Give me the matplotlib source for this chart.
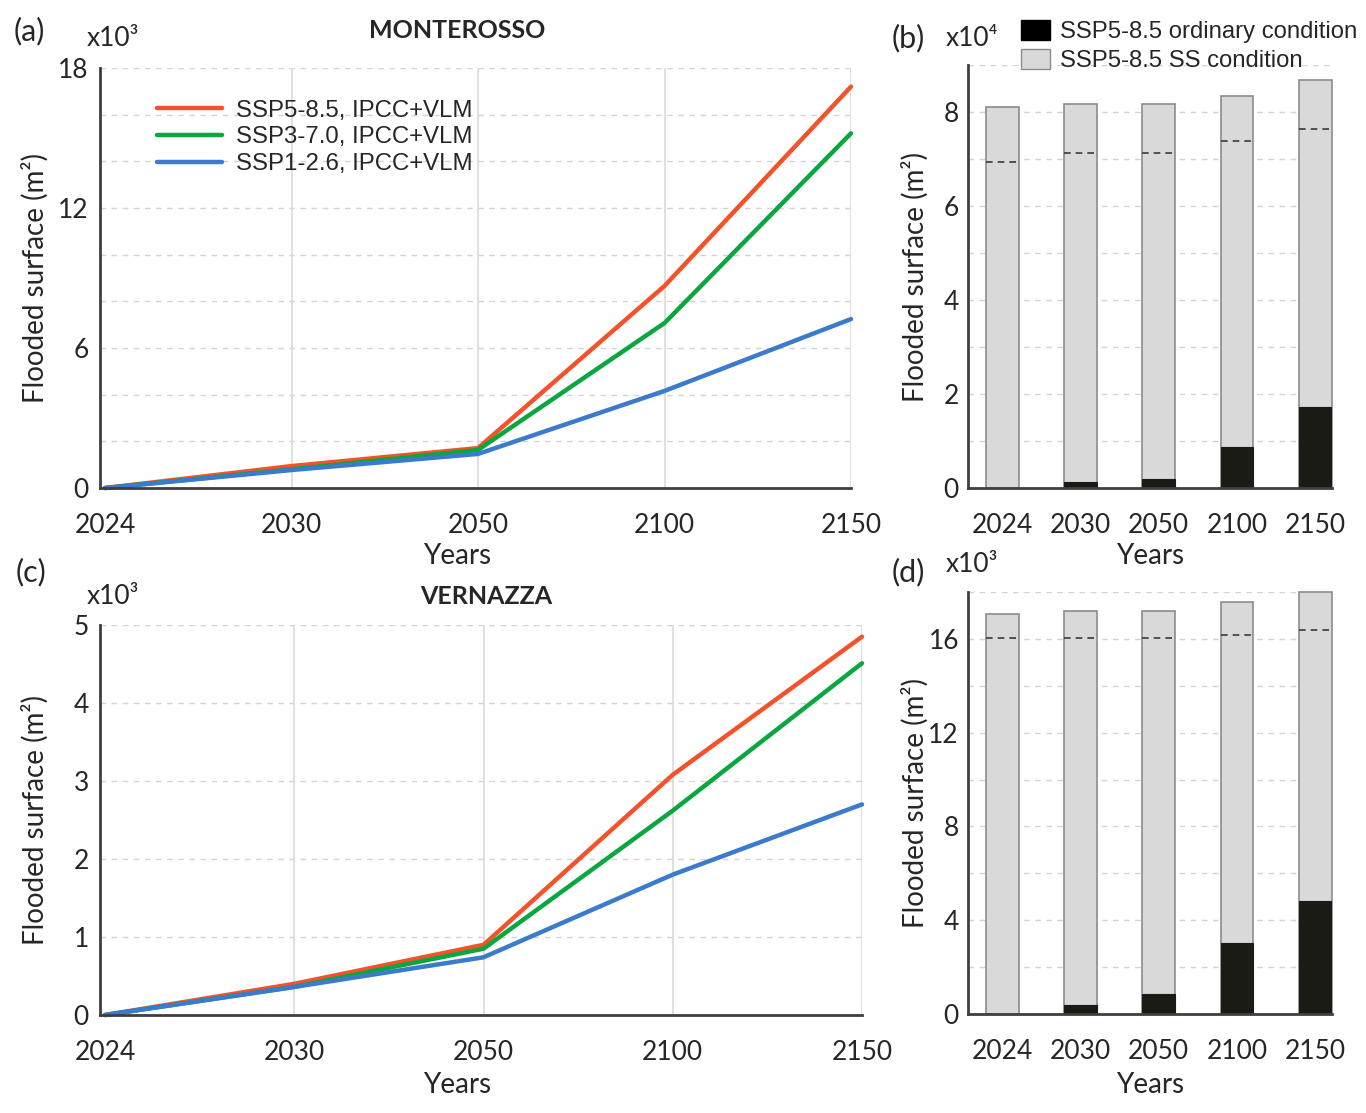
import matplotlib
matplotlib.use('Agg')
import matplotlib.pyplot as plt
import matplotlib.transforms as mtransforms
from matplotlib.patches import Patch
import numpy as np

# ---------------- data ----------------
years = ['2024', '2030', '2050', '2100', '2150']

# Monterosso line chart (x10^3 m2)
mont_ssp585 = [0.0, 0.94, 1.71, 8.66, 17.2]
mont_ssp370 = [0.0, 0.80, 1.63, 7.07, 15.2]
mont_ssp126 = [0.0, 0.77, 1.46, 4.16, 7.24]
# Vernazza line chart (x10^3 m2)
vern_ssp585 = [0.0, 0.40, 0.90, 3.08, 4.85]
vern_ssp370 = [0.0, 0.36, 0.85, 2.62, 4.51]
vern_ssp126 = [0.0, 0.36, 0.74, 1.80, 2.70]

# Monterosso bars (x10^4 m2)
mont_ordinary = [0.0, 0.12, 0.19, 0.88, 1.72]
mont_ss = [8.10, 8.16, 8.16, 8.35, 8.68]
mont_ss_dashed = [6.93, 7.13, 7.13, 7.39, 7.64]
# Vernazza bars (x10^3 m2)
vern_ordinary = [0.0, 0.38, 0.87, 3.04, 4.82]
vern_ss = [17.08, 17.20, 17.20, 17.58, 18.0]
vern_ss_dashed = [16.02, 16.02, 16.02, 16.15, 16.40]

line_labels = ['SSP5-8.5, IPCC+VLM', 'SSP3-7.0, IPCC+VLM', 'SSP1-2.6, IPCC+VLM']
line_colors = ['#F4522B', '#0AA640', '#3A7BCB']
bar_labels = ['SSP5-8.5 ordinary condition', 'SSP5-8.5 SS condition']

# ---------------- style ----------------
W, H = 1366, 1113
FONT = ['Lato', 'DejaVu Sans']
LEGFONT = ['Liberation Sans', 'DejaVu Sans']
plt.rcParams['font.family'] = FONT
TXT = '#262626'
SPINE = '#3F3F3F'
GRID = '#D4D4D4'
TICKFS = 19
LABFS = 20

fig = plt.figure(figsize=(W / 100, H / 100), dpi=100)


def rect(x0, x1, y0, y1):
    return [x0 / W, 1 - y1 / H, (x1 - x0) / W, (y1 - y0) / H]


def style_axes(ax, ypad):
    for s in ['top', 'right']:
        ax.spines[s].set_visible(False)
    for s in ['left', 'bottom']:
        ax.spines[s].set_color(SPINE)
        ax.spines[s].set_linewidth(2.0)
        ax.spines[s].set_zorder(5)
    ax.tick_params(axis='both', length=0, labelsize=TICKFS, colors=TXT)
    ax.tick_params(axis='x', pad=18)
    ax.tick_params(axis='y', pad=ypad)


def labels(ax, ylab_right_px, xlab_center_px, xlab_top_px):
    ax.set_ylabel('Flooded surface (m²)', fontsize=LABFS, color=TXT)
    ax.set_xlabel('Years', fontsize=LABFS, color=TXT)
    ax.yaxis.set_label_coords(ylab_right_px / W, 0.5,
                              transform=mtransforms.blended_transform_factory(fig.transFigure,
                                                                              ax.transAxes))
    ax.xaxis.set_label_coords(xlab_center_px / W, 1 - xlab_top_px / H, transform=fig.transFigure)


def line_panel(ax, series, ymax, yticks, ygrid):
    x = np.arange(len(years))
    ax.set_xlim(-0.027, 4.0)
    ax.set_ylim(0, ymax)
    for yy in ygrid:
        ax.axhline(yy, color=GRID, lw=1.0, ls=(0, (4, 4)), zorder=0)
    for xx in x[1:]:
        ax.axvline(xx, color='#DADADA', lw=1.2, zorder=0)
    handles = []
    for vals, c, lab in zip(series, line_colors, line_labels):
        h, = ax.plot(x, vals, color=c, lw=3.2, label=lab, solid_capstyle='round',
                     zorder=3, clip_on=False)
        handles.append(h)
    ax.set_xticks(x)
    ax.set_xticklabels(years)
    ax.set_yticks(yticks)
    ax.set_yticklabels([str(t) for t in yticks])
    style_axes(ax, 8)
    return handles


def bar_panel(ax, ss, ss_dash, ordinary, ymax, yticks, ygrid):
    x = np.arange(len(years))
    w = 0.42
    ax.set_xlim(-0.44, 4.215)
    ax.set_ylim(0, ymax)
    for yy in ygrid:
        ax.axhline(yy, color=GRID, lw=1.0, ls=(0, (4, 4)), zorder=0)
    ax.bar(x, ss, width=w, color='#D9D9D9', edgecolor='#8C8C8C', linewidth=1.2, zorder=2,
           clip_on=False)
    ax.bar(x, ordinary, width=w, color='#1B1B15', edgecolor='#1B1B15', linewidth=0.8, zorder=3)
    ax.hlines(ss_dash, x - w / 2, x + w / 2, colors='#3A3A3A', linestyles=(0, (4, 3)),
              lw=1.2, zorder=4)
    ax.set_xticks(x)
    ax.set_xticklabels(years)
    ax.set_yticks(yticks)
    ax.set_yticklabels([str(t) for t in yticks])
    style_axes(ax, 6.5)


# ---- (a) Monterosso lines
ax_a = fig.add_axes(rect(100, 851, 68, 488))
hs = line_panel(ax_a, [mont_ssp585, mont_ssp370, mont_ssp126], 18, [0, 6, 12, 18],
                np.arange(2, 19, 2))
labels(ax_a, 49, 457, 543)
leg = ax_a.legend(handles=hs, loc='upper left', bbox_to_anchor=(0.0759, 0.925), frameon=False,
                  prop={'family': LEGFONT, 'size': 17.3}, handlelength=2.7, handletextpad=0.58,
                  labelspacing=0.2, borderpad=0, borderaxespad=0)
for t in leg.get_texts():
    t.set_color(TXT)

# ---- (c) Vernazza lines
ax_c = fig.add_axes(rect(100, 862, 625, 1015))
line_panel(ax_c, [vern_ssp585, vern_ssp370, vern_ssp126], 5, [0, 1, 2, 3, 4, 5],
           np.arange(1, 6, 1))
labels(ax_c, 49, 457, 1072)

# ---- (b) Monterosso bars
ax_b = fig.add_axes(rect(968, 1332, 65, 488))
bar_panel(ax_b, mont_ss, mont_ss_dashed, mont_ordinary, 9, [0, 2, 4, 6, 8], np.arange(1, 10, 1))
labels(ax_b, 929, 1150, 543)

# ---- (d) Vernazza bars
ax_d = fig.add_axes(rect(968, 1332, 592, 1014))
bar_panel(ax_d, vern_ss, vern_ss_dashed, vern_ordinary, 18, [0, 4, 8, 12, 16],
          np.arange(2, 19, 2))
labels(ax_d, 929, 1150, 1072)

# bar legend
bar_handles = [Patch(facecolor='#000000', edgecolor='#000000'),
               Patch(facecolor='#D9D9D9', edgecolor='#8C8C8C')]
bleg = fig.legend(handles=bar_handles, labels=bar_labels, loc='upper left',
                  bbox_to_anchor=(1021 / W, 1 - 20 / H), frameon=False,
                  prop={'family': LEGFONT, 'size': 17.2}, handlelength=1.2, handleheight=0.92,
                  handletextpad=0.42, labelspacing=0.22, borderpad=0, borderaxespad=0)
for t in bleg.get_texts():
    t.set_color(TXT)


# panel letters, multipliers and titles
def ftext(x, y, s, **kw):
    fig.text(x / W, 1 - y / H, s, va='center', color=TXT, **kw)


ftext(14, 31, '(a)', fontsize=22, ha='left')
ftext(892, 38, '(b)', fontsize=22, ha='left')
ftext(16, 572, '(c)', fontsize=22, ha='left')
ftext(892, 572, '(d)', fontsize=22, ha='left')
ftext(87, 38, 'x10³', fontsize=19, ha='left')
ftext(946, 38, 'x10⁴', fontsize=19, ha='left')
ftext(87, 596, 'x10³', fontsize=19, ha='left')
ftext(946, 564, 'x10³', fontsize=19, ha='left')
ftext(457, 30, 'MONTEROSSO', fontsize=18, ha='center', fontweight='bold')
ftext(486, 596, 'VERNAZZA', fontsize=18, ha='center', fontweight='bold')

fig.savefig('out.png', dpi=100)
